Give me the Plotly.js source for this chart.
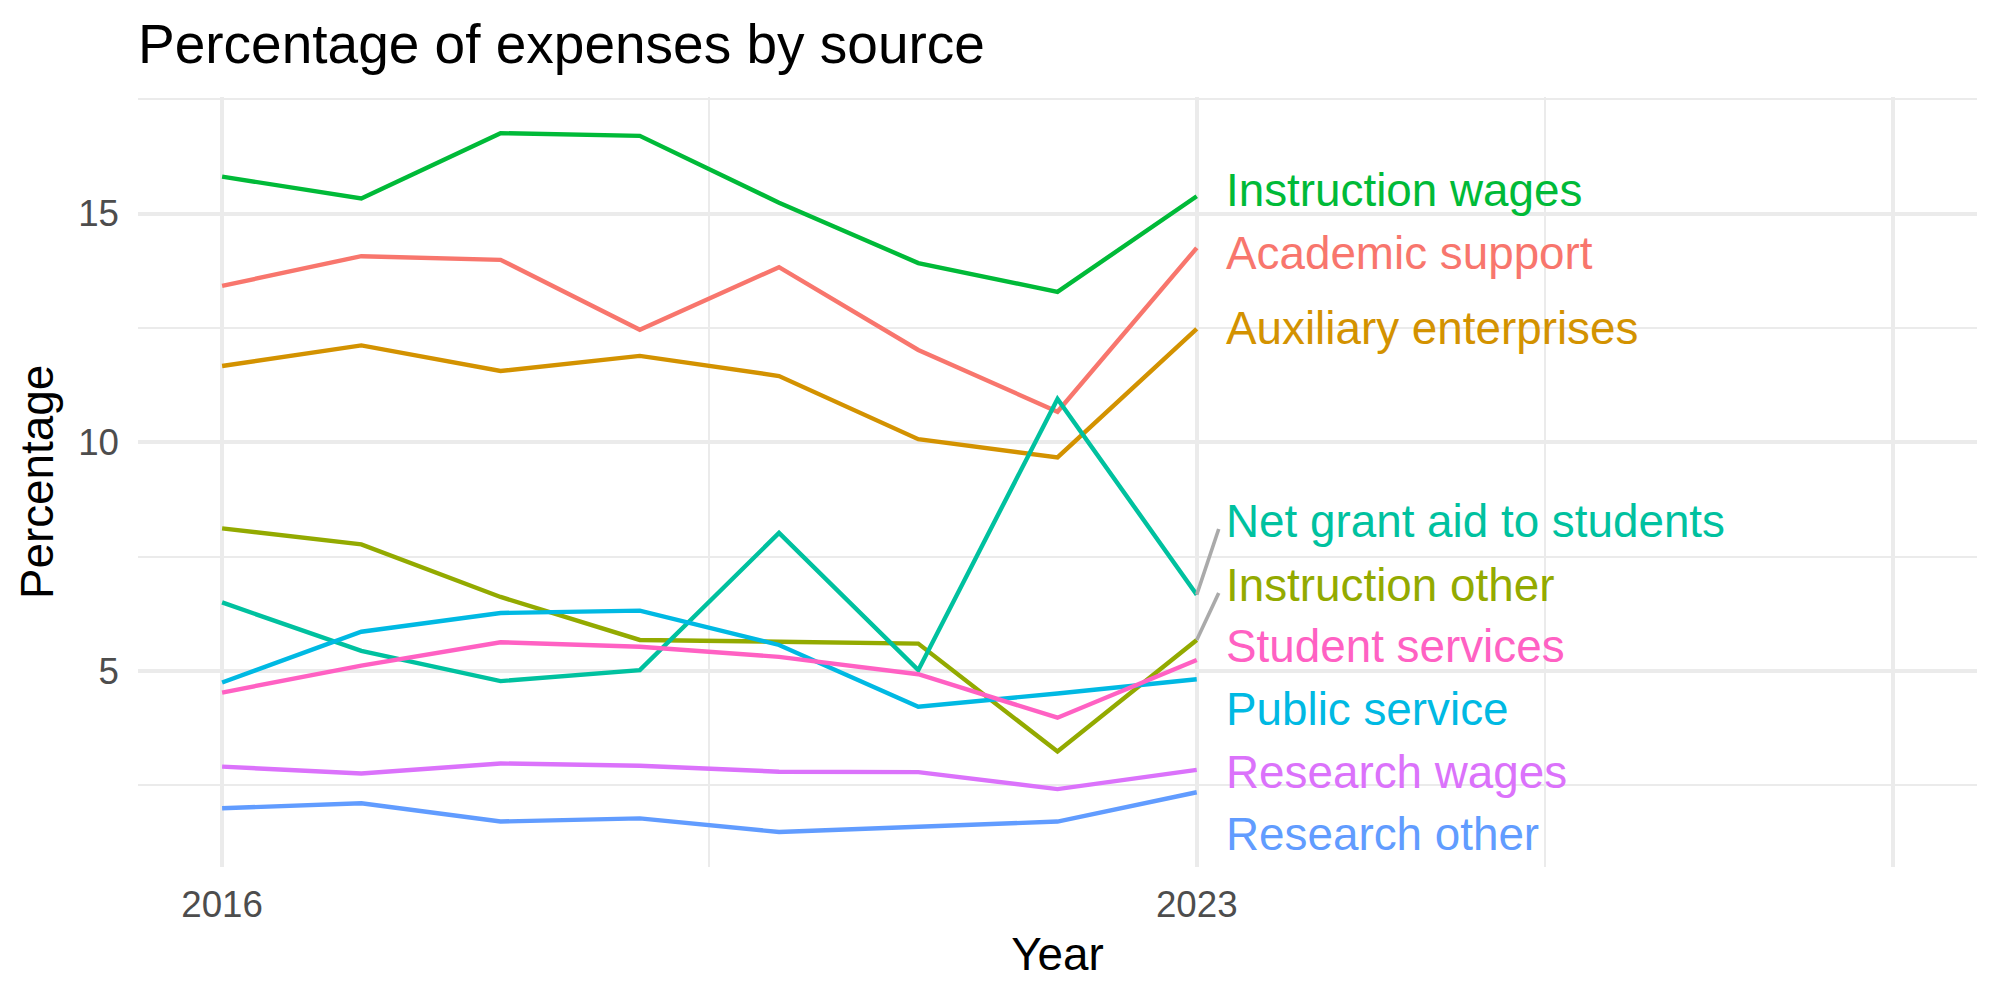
<!DOCTYPE html>
<html>
<head>
<meta charset="utf-8">
<script src="https://cdn.plot.ly/plotly-3.0.1.min.js"></script>
<style>
  html, body { margin: 0; padding: 0; background: #ffffff; }
  #chart { width: 2000px; height: 1000px; }
</style>
</head>
<body>
<div id="chart"></div>
<script>
// ---------------- data ----------------
const years = [2016, 2017, 2018, 2019, 2020, 2021, 2022, 2023];

const seriesNames = [
  "Academic support",
  "Auxiliary enterprises",
  "Instruction other",
  "Instruction wages",
  "Net grant aid to students",
  "Public service",
  "Research other",
  "Research wages",
  "Student services"
];

const academicSupport      = [13.42, 14.07, 13.99, 12.46, 13.83, 12.02, 10.67, 14.25];
const auxiliaryEnterprises = [11.67, 12.12, 11.56, 11.89, 11.45, 10.07, 9.67, 12.48];
const instructionOther     = [8.12, 7.77, 6.62, 5.68, 5.64, 5.60, 3.24, 5.68];
const instructionWages     = [15.81, 15.33, 16.76, 16.70, 15.24, 13.92, 13.29, 15.38];
const netGrantAid          = [6.50, 5.44, 4.78, 5.02, 8.02, 5.02, 10.95, 6.67];
const publicService        = [4.75, 5.86, 6.27, 6.32, 5.57, 4.22, 4.51, 4.82];
const researchOther        = [2.00, 2.11, 1.71, 1.78, 1.48, 1.60, 1.71, 2.35];
const researchWages        = [2.91, 2.76, 2.98, 2.93, 2.80, 2.79, 2.42, 2.84];
const studentServices      = [4.53, 5.12, 5.63, 5.53, 5.31, 4.93, 3.98, 5.24];

const xTickVals = [2016, 2023, 2028];
const xTickText = ["2016", "2023", ""];
const yTickVals = [5, 10, 15];
const yTickText = ["5", "10", "15"];

// ---------------- styling / label placement ----------------
const seriesValues = [academicSupport, auxiliaryEnterprises, instructionOther, instructionWages,
  netGrantAid, publicService, researchOther, researchWages, studentServices];
const seriesColors = ["#F8766D", "#D39200", "#93AA00", "#00BA38", "#00C19F",
  "#00B9E3", "#619CFF", "#DB72FB", "#FF61C3"];
// repelled label positions (data units on the y axis)
const labelY = [14.13, 12.49, 6.88, 15.51, 8.28, 4.155, 1.43, 2.79, 5.54];

const traces = seriesNames.map((name, i) => ({
  type: "scatter",
  mode: "lines",
  name: name,
  x: years,
  y: seriesValues[i],
  line: { color: seriesColors[i], width: 4.4 },
  hoverinfo: "x+y+name",
  showlegend: false
}));

const lastIdx = years.length - 1;
const lastYear = years[lastIdx];

const annotations = seriesNames.map((name, i) => ({
  x: lastYear,
  y: labelY[i],
  xref: "x",
  yref: "y",
  text: name,
  showarrow: false,
  xanchor: "left",
  yanchor: "middle",
  xshift: 27,
  font: { family: "Liberation Sans, Arial, sans-serif", size: 45.8, color: seriesColors[i] }
}));

const shapes = [];
seriesNames.forEach((name, i) => {
  const v = seriesValues[i][lastIdx];
  if (Math.abs(labelY[i] - v) > 1.0) {
    shapes.push({
      type: "line", xref: "x", yref: "y",
      x0: lastYear, y0: v,
      x1: lastYear + 0.158, y1: labelY[i] - 0.175,
      line: { color: "#AAAAAA", width: 3.6 },
      layer: "above"
    });
  }
});

const gridColor = "#EBEBEB";

const layout = {
  width: 2000,
  height: 1000,
  paper_bgcolor: "#ffffff",
  plot_bgcolor: "#ffffff",
  font: { family: "Liberation Sans, Arial, sans-serif", color: "#000000" },
  margin: { l: 138, r: 23, t: 96.5, b: 132.5, pad: 0 },
  title: {
    text: "Percentage of expenses by source",
    font: { family: "Liberation Sans, Arial, sans-serif", size: 55, color: "#000000" },
    x: 0, xref: "paper", xanchor: "left",
    y: 0.9755, yref: "container", yanchor: "top"
  },
  xaxis: {
    range: [2015.396, 2028.604],
    tickmode: "array",
    tickvals: xTickVals,
    ticktext: xTickText,
    showgrid: true,
    gridcolor: gridColor,
    gridwidth: 4.4,
    zeroline: false,
    showline: false,
    ticks: "",
    ticklabelstandoff: 12,
    tickfont: { size: 36.7, color: "#4D4D4D" },
    minor: { tickvals: [2019.5, 2025.5], showgrid: true, gridcolor: gridColor, gridwidth: 2.2, ticks: "" },
    title: { text: "Year", font: { size: 45.8, color: "#000000" }, standoff: 14 },
    fixedrange: true
  },
  yaxis: {
    range: [0.716, 17.55],
    tickmode: "array",
    tickvals: yTickVals,
    ticktext: yTickText,
    showgrid: true,
    gridcolor: gridColor,
    gridwidth: 4.4,
    zeroline: false,
    showline: false,
    ticks: "",
    ticklabelstandoff: 18,
    tickfont: { size: 36.7, color: "#4D4D4D" },
    minor: { tickvals: [2.5, 7.5, 12.5, 17.5], showgrid: true, gridcolor: gridColor, gridwidth: 2.2, ticks: "" },
    title: { text: "Percentage", font: { size: 45.8, color: "#000000" }, standoff: 10 },
    fixedrange: true
  },
  annotations: annotations,
  shapes: shapes,
  showlegend: false
};

Plotly.newPlot("chart", traces, layout, { displayModeBar: false, responsive: false });
</script>
</body>
</html>
